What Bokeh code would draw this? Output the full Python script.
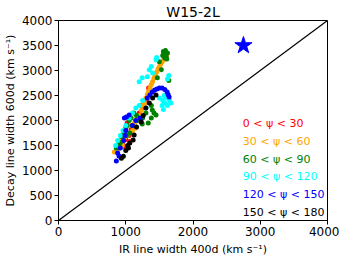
from bokeh.plotting import figure
from bokeh.models import Range1d, FixedTicker, ColumnDataSource
from bokeh.core.properties import value
from bokeh.embed import file_html
from bokeh.resources import INLINE

# ---- data ----
red_x = [900, 950, 1000, 1050, 1080, 1120, 1000, 1150, 1200, 1250, 1300, 1340, 1060, 980, 1100, 1180, 930, 1020, 1230, 1280]
red_y = [1450, 1550, 1620, 1700, 1820, 1900, 1750, 2000, 2150, 2250, 2400, 2650, 1580, 1480, 1850, 2050, 1600, 1950, 2300, 2350]

orange_x = [830, 870, 900, 950, 980, 1020, 1050, 1100, 1130, 1150, 1200, 1230, 1250, 1280, 880, 940, 1070, 1170,
            1300, 1320, 1340, 1360, 1380, 1400, 1420, 1440, 1460, 1480, 1500, 1520, 1540, 1560, 1580, 1600, 1610]
orange_y = [1370, 1420, 1550, 1500, 1650, 1700, 1750, 1800, 1950, 1850, 2100, 2200, 2300, 2350, 1480, 1620, 1900, 2050,
            2450, 2520, 2580, 2650, 2720, 2780, 2850, 2910, 2970, 3030, 3080, 3130, 3170, 3210, 3250, 3290, 3320]

green_x = [860, 900, 940, 970, 1000, 1020, 1050, 1080, 1120, 1160, 1200, 1245, 1335, 1380, 1420, 1395, 1450, 1380, 1300,
           1250, 1100, 1060, 1500, 1530, 1470, 1550, 1570, 1590, 1600, 1620, 1580, 1560, 1610, 1640, 920, 1010]
green_y = [1450, 1500, 1680, 1750, 1850, 1900, 2000, 2050, 2150, 2100, 2000, 1930, 1950, 2050, 2150, 2210, 2110, 2300, 2150,
           2050, 1900, 1750, 3175, 3015, 2855, 3300, 3350, 3400, 3280, 3350, 3250, 3380, 3230, 2800, 1560, 1700]

cyan_x = [850, 880, 920, 960, 1000, 1050, 1100, 1150, 1200, 1250, 1245, 1320, 1350, 1380, 1460, 1450, 1620, 1640, 1550,
          1600, 1580, 1620, 1650, 1540, 1500, 1570, 1300, 1200, 1400, 1670, 1630, 1560]
cyan_y = [1500, 1600, 1700, 1800, 1900, 2050, 2150, 2250, 2300, 2400, 2855, 2875, 3015, 3080, 3260, 3215, 2830, 2900, 2400,
          2450, 2350, 2300, 2400, 2300, 2450, 2500, 2250, 2775, 2950, 2350, 2480, 2220]

blue_x = [860, 900, 880, 920, 970, 990, 1000, 1010, 1050, 980, 1215, 1320, 1395, 1465, 1540, 1615, 1645, 1430, 1500,
          1580, 1360, 1630, 1100, 1150]
blue_y = [1190, 1290, 1350, 1450, 1600, 1700, 1800, 2070, 2110, 2050, 2050, 2450, 2570, 2630, 2650, 2570, 2470, 2610, 2650,
          2620, 2510, 2520, 1900, 2000]

black_x = [935, 965, 1000, 1030, 1060, 1110, 1125, 1160, 1230, 1260, 1300, 1350, 1400, 1450, 1040]
black_y = [1246, 1286, 1400, 1500, 1550, 1608, 1710, 1870, 1970, 2100, 2250, 2350, 2450, 2510, 1450]

star_x = [2750]
star_y = [3500]

diag = [0, 4000]

labels = ["0 < ψ < 30", "30 < ψ < 60", "60 < ψ < 90", "90 < ψ < 120", "120 < ψ < 150", "150 < ψ < 180"]
label_y = [1950, 1590, 1230, 880, 520, 170]
label_x = 2740
colors = ["red", "orange", "green", "cyan", "blue", "black"]

x_ticks = [0, 1000, 2000, 3000, 4000]
y_ticks = [0, 500, 1000, 1500, 2000, 2500, 3000, 3500, 4000]

# ---- figure ----
p = figure(frame_width=269, frame_height=200, output_backend="svg", toolbar_location=None,
           x_range=Range1d(0, 4000), y_range=Range1d(0, 4000),
           title="W15-2L", min_border_left=0, min_border_right=12, min_border_top=0, min_border_bottom=0)
p.title.align = "center"
p.title.text_font = "DejaVu Sans"
p.title.text_font_size = "14px"
p.title.text_font_style = "normal"
p.title.text_color = "black"
p.title.standoff = 2
p.title.offset = 0

p.grid.visible = False
p.outline_line_color = "black"
p.outline_line_alpha = 1
p.outline_line_width = 1
p.background_fill_color = "white"
p.border_fill_color = "white"

for ax in (p.xaxis[0], p.yaxis[0]):
    ax.axis_label_text_font = "DejaVu Sans"
    ax.axis_label_text_font_size = "11px"
    ax.axis_label_text_font_style = "normal"
    ax.axis_label_text_color = "black"
    ax.major_label_text_font = "DejaVu Sans"
    ax.major_label_text_font_size = "12px"
    ax.major_label_text_color = "black"
    ax.axis_line_color = "black"
    ax.major_tick_line_color = "black"
    ax.major_tick_out = 4
    ax.major_tick_in = 0
    ax.minor_tick_line_color = None
    ax.major_label_standoff = 2
    ax.axis_label_standoff = 4
p.yaxis[0].axis_label_standoff = 2

p.xaxis[0].ticker = FixedTicker(ticks=x_ticks)
p.yaxis[0].ticker = FixedTicker(ticks=y_ticks)
p.xaxis[0].axis_label = "IR line width 400d (km s⁻¹)"
p.yaxis[0].axis_label = "Decay line width 600d (km s⁻¹)"

p.line(diag, diag, line_color="black", line_width=1.2)

for xs, ys, c in [(red_x, red_y, "red"), (orange_x, orange_y, "orange"), (green_x, green_y, "green"),
                  (cyan_x, cyan_y, "cyan"), (blue_x, blue_y, "blue"), (black_x, black_y, "black")]:
    p.scatter(xs, ys, size=5, fill_color=c, line_color=c, line_width=0)

p.scatter(star_x, star_y, marker="star", size=18, fill_color="blue", line_color="blue")

src = ColumnDataSource(dict(x=[label_x] * len(labels), y=label_y, t=labels, c=colors))
p.text(x="x", y="y", text="t", text_color="c", source=src, text_font=value("DejaVu Sans"),
       text_font_size="11px", text_baseline="middle", text_align="left")

open("out.html", "w").write(file_html(p, INLINE))
